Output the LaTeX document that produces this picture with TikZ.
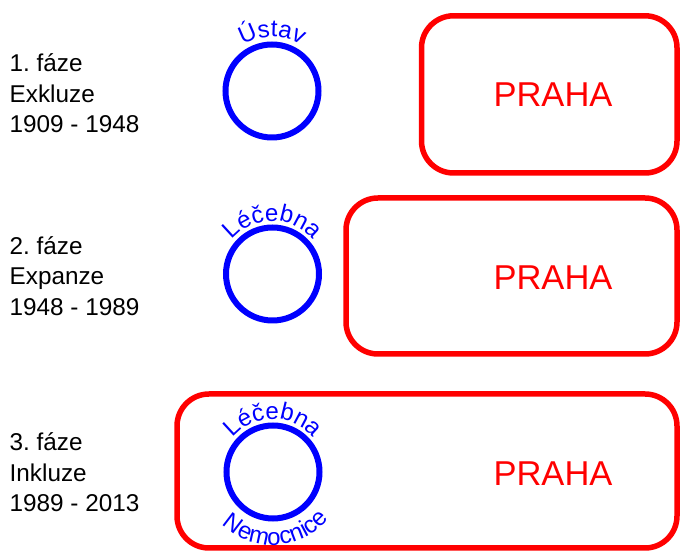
\documentclass[tikz,border=0pt]{standalone}
\usepackage{fontspec}
\setmainfont{Liberation Sans}
\newfontfamily\arcfam{Liberation Sans}
\usetikzlibrary{decorations.text}
\definecolor{cityred}{RGB}{255,0,0}
\definecolor{instblue}{RGB}{0,0,255}
\newcommand\arcfont{\arcfam\fontsize{24}{24}\selectfont}
\tikzset{
  citybox/.style={draw=cityred, line width=5.5pt, rounded corners=32pt, inner sep=0pt},
  citylabel/.style={text=cityred, font=\fontsize{34.5}{36}\selectfont, inner sep=0pt},
  institution/.style={circle, draw=instblue, line width=6pt, minimum size=93pt, inner sep=0pt},
  phaselabel/.style={anchor=base west, inner sep=0pt, font=\frenchspacing\fontsize{24.3}{28}\selectfont},
  arctext/.style={decorate, decoration={text along path, text align=center, text color=instblue, text={|\arcfont|#1}}}
}
\begin{document}
\begin{tikzpicture}[x=1pt,y=1pt]
\useasboundingbox (0,0) rectangle (680,551);

% city boxes
\node[citybox, minimum width=255.5pt, minimum height=157.2pt] (r1) at (549.25,456.6) {};
\node[citybox, minimum width=331pt, minimum height=156pt] (r2) at (511.5,275) {};
\node[citybox, minimum width=500pt, minimum height=154pt] (r3) at (427,80) {};
\node[citylabel] (t1) at (553,456) {PRAHA};
\node[citylabel] (t2) at (553,273.5) {PRAHA};
\node[citylabel] (t3) at (553,77) {PRAHA};

% institutions
\node[institution] (c1) at (272,460) {};
\node[institution] (c2) at (272.5,277) {};
\node[institution] (c3) at (273,79) {};

\path[arctext={Ústav}] ([shift={(180:54pt)}]c1.center) arc[start angle=180, end angle=0, radius=54pt];
\path[arctext={Léčebna}] ([shift={(180:53pt)}]c2.center) arc[start angle=180, end angle=0, radius=53pt];
\path[arctext={Léčebna}] ([shift={(180:53pt)}]c3.center) arc[start angle=180, end angle=0, radius=53pt];
\path[arctext={Nemocnice}] ([shift={(183:73pt)}]c3.center) arc[start angle=183, end angle=363, radius=73pt];

% phase descriptions
\node[phaselabel] (p1a) at (9.5,479.3) {1. fáze};
\node[phaselabel] (p1b) at (9.5,448.7) {Exkluze};
\node[phaselabel] (p1c) at (9.5,418.7) {1909 - 1948};
\node[phaselabel] (p2a) at (9.5,296.5) {2. fáze};
\node[phaselabel] (p2b) at (9.5,266) {Expanze};
\node[phaselabel] (p2c) at (9.5,235.5) {1948 - 1989};
\node[phaselabel] (p3a) at (9.5,100.3) {3. fáze};
\node[phaselabel] (p3b) at (9.5,69.3) {Inkluze};
\node[phaselabel] (p3c) at (9.5,39.3) {1989 - 2013};
\end{tikzpicture}
\end{document}
